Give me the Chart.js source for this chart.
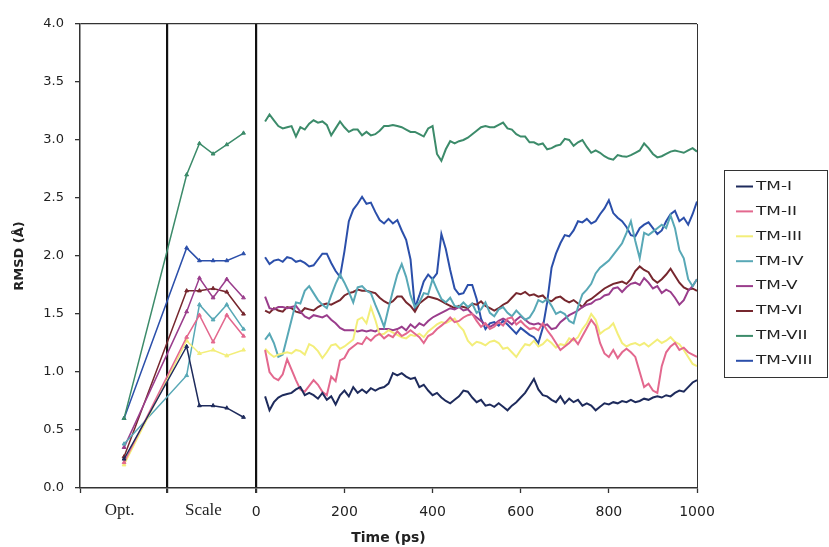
<!DOCTYPE html>
<html><head><meta charset="utf-8">
<script src="https://cdn.jsdelivr.net/npm/chart.js@4/dist/chart.umd.min.js"></script>
<style>html,body{margin:0;padding:0;background:#fff}#wrap{width:829px;height:547px;position:relative}</style>
</head><body><div id="wrap"><canvas id="c"></canvas></div>
<script>
const seriesLabels = ['TM-I','TM-II','TM-III','TM-IV','TM-V','TM-VI','TM-VII','TM-VIII'];
const seriesColors = ['#1e2b5c','#e3688e','#f3ee7a','#58a8b6','#9a3d8c','#76272e','#3c8b6a','#2b4faa'];

// Opt. point and Scale points (placed on the x axis before time 0)
const prepTimes = [-300,-158,-129,-98,-67,-29];
const prepTM1 = [0.25,1.22,0.71,0.71,0.69,0.61];
const prepTM2 = [0.22,1.30,1.49,1.26,1.49,1.31];
const prepTM3 = [0.20,1.27,1.16,1.19,1.14,1.19];
const prepTM4 = [0.38,0.97,1.58,1.45,1.58,1.37];
const prepTM5 = [0.35,1.52,1.81,1.64,1.80,1.64];
const prepTM6 = [0.27,1.70,1.70,1.72,1.69,1.50];
const prepTM7 = [0.60,2.70,2.97,2.88,2.96,3.06];
const prepTM8 = [0.60,2.07,1.96,1.96,1.96,2.02];

// MD time (ps)
const mdTimes = [20,30,40,50,60,70,80,90,100,110,
120,130,140,150,160,170,180,190,200,210,
220,230,240,250,260,270,280,290,300,310,
320,330,340,350,360,370,380,390,400,410,
420,430,440,450,460,470,480,490,500,510,
520,530,540,550,560,570,580,590,600,610,
620,630,640,650,660,670,680,690,700,710,
720,730,740,750,760,770,780,790,800,810,
820,830,840,850,860,870,880,890,900,910,
920,930,940,950,960,970,980,990,1000];

const mdTM1 = [0.79,0.67,0.74,0.78,0.80,0.81,0.82,0.85,0.87,0.80,
0.82,0.80,0.77,0.82,0.76,0.79,0.72,0.80,0.84,0.79,
0.87,0.82,0.85,0.82,0.86,0.84,0.86,0.87,0.90,0.99,
0.97,0.99,0.96,0.94,0.95,0.87,0.89,0.84,0.80,0.82,
0.78,0.75,0.73,0.76,0.79,0.84,0.83,0.78,0.74,0.76,
0.71,0.72,0.70,0.73,0.70,0.67,0.71,0.74,0.78,0.82,
0.88,0.94,0.85,0.80,0.79,0.76,0.74,0.79,0.73,0.77,
0.74,0.76,0.71,0.73,0.71,0.67,0.70,0.73,0.72,0.74,
0.73,0.75,0.74,0.76,0.74,0.75,0.77,0.76,0.78,0.79,
0.78,0.80,0.79,0.82,0.84,0.83,0.87,0.91,0.93];

const mdTM2 = [1.19,1.00,0.95,0.93,0.98,1.11,1.02,0.93,0.85,0.83,
0.88,0.93,0.89,0.83,0.80,0.96,0.92,1.10,1.12,1.19,
1.22,1.25,1.24,1.30,1.27,1.31,1.33,1.29,1.32,1.30,
1.35,1.31,1.33,1.36,1.33,1.30,1.25,1.31,1.33,1.37,
1.40,1.43,1.47,1.43,1.44,1.47,1.49,1.50,1.44,1.39,
1.42,1.37,1.39,1.43,1.40,1.46,1.47,1.41,1.44,1.40,
1.37,1.38,1.36,1.42,1.36,1.31,1.25,1.19,1.22,1.25,
1.29,1.24,1.31,1.38,1.45,1.40,1.25,1.16,1.13,1.19,
1.12,1.17,1.20,1.17,1.13,1.00,0.87,0.90,0.84,0.82,
1.05,1.17,1.22,1.25,1.19,1.21,1.17,1.15,1.13];

const mdTM3 = [1.20,1.16,1.13,1.15,1.16,1.17,1.16,1.19,1.18,1.15,
1.24,1.22,1.18,1.12,1.17,1.23,1.24,1.20,1.22,1.25,
1.28,1.45,1.47,1.42,1.56,1.45,1.32,1.33,1.36,1.34,
1.32,1.30,1.29,1.32,1.31,1.33,1.30,1.35,1.38,1.41,
1.43,1.42,1.44,1.46,1.40,1.36,1.27,1.23,1.26,1.25,
1.23,1.26,1.27,1.25,1.20,1.21,1.17,1.13,1.19,1.24,
1.23,1.27,1.22,1.24,1.28,1.25,1.21,1.24,1.23,1.29,
1.27,1.30,1.37,1.42,1.50,1.45,1.33,1.36,1.38,1.42,
1.33,1.25,1.22,1.24,1.25,1.23,1.25,1.22,1.25,1.28,
1.25,1.27,1.30,1.26,1.24,1.19,1.13,1.07,1.05];

const mdTM4 = [1.28,1.33,1.25,1.13,1.15,1.30,1.45,1.60,1.59,1.70,
1.74,1.68,1.62,1.58,1.55,1.66,1.76,1.84,1.77,1.69,
1.60,1.73,1.74,1.70,1.68,1.58,1.49,1.39,1.55,1.70,
1.84,1.93,1.82,1.66,1.56,1.60,1.68,1.67,1.80,1.71,
1.63,1.60,1.64,1.57,1.56,1.60,1.56,1.59,1.51,1.54,
1.60,1.51,1.48,1.54,1.56,1.51,1.48,1.53,1.49,1.45,
1.47,1.53,1.62,1.60,1.63,1.57,1.50,1.52,1.50,1.44,
1.42,1.56,1.67,1.71,1.76,1.85,1.90,1.93,1.96,2.01,
2.06,2.11,2.20,2.30,2.13,1.98,2.20,2.18,2.21,2.24,
2.27,2.24,2.35,2.24,2.05,1.98,1.80,1.74,1.80];

const mdTM5 = [1.65,1.55,1.54,1.56,1.56,1.55,1.56,1.57,1.52,1.48,
1.46,1.49,1.48,1.47,1.49,1.45,1.42,1.38,1.36,1.36,
1.36,1.35,1.36,1.35,1.36,1.35,1.37,1.37,1.37,1.36,
1.37,1.39,1.36,1.41,1.38,1.42,1.40,1.44,1.47,1.49,
1.51,1.53,1.55,1.54,1.56,1.53,1.54,1.50,1.47,1.44,
1.41,1.39,1.41,1.44,1.46,1.44,1.41,1.45,1.48,1.45,
1.42,1.41,1.42,1.40,1.41,1.37,1.38,1.43,1.46,1.49,
1.51,1.53,1.56,1.58,1.59,1.62,1.63,1.66,1.67,1.72,
1.73,1.69,1.73,1.76,1.77,1.75,1.81,1.77,1.72,1.74,
1.68,1.71,1.69,1.64,1.58,1.62,1.70,1.74,1.80];

const mdTM6 = [1.53,1.51,1.55,1.53,1.52,1.56,1.55,1.52,1.51,1.55,
1.54,1.53,1.56,1.58,1.59,1.58,1.60,1.62,1.66,1.68,
1.69,1.71,1.70,1.70,1.69,1.68,1.64,1.61,1.59,1.61,
1.65,1.65,1.60,1.57,1.52,1.59,1.62,1.65,1.64,1.63,
1.61,1.59,1.57,1.55,1.57,1.56,1.55,1.59,1.58,1.61,
1.57,1.55,1.53,1.55,1.58,1.60,1.64,1.68,1.67,1.69,
1.66,1.67,1.65,1.66,1.62,1.61,1.64,1.65,1.62,1.60,
1.62,1.59,1.56,1.61,1.63,1.66,1.69,1.72,1.74,1.76,
1.77,1.78,1.76,1.80,1.87,1.91,1.88,1.86,1.80,1.77,
1.80,1.84,1.89,1.83,1.77,1.73,1.71,1.72,1.70];

const mdTM7 = [3.16,3.22,3.17,3.12,3.10,3.11,3.12,3.03,3.11,3.09,
3.14,3.17,3.15,3.16,3.13,3.04,3.10,3.16,3.11,3.07,
3.09,3.09,3.04,3.07,3.04,3.05,3.08,3.12,3.12,3.13,
3.12,3.11,3.09,3.07,3.07,3.05,3.03,3.10,3.12,2.88,
2.82,2.92,2.99,2.97,2.99,3.00,3.02,3.05,3.08,3.11,
3.12,3.11,3.11,3.13,3.15,3.10,3.09,3.05,3.03,3.03,
2.98,2.98,2.96,2.97,2.92,2.93,2.95,2.96,3.01,3.00,
2.95,2.98,3.00,2.94,2.89,2.91,2.89,2.86,2.84,2.83,
2.87,2.86,2.855,2.87,2.89,2.91,2.97,2.93,2.88,2.85,
2.86,2.88,2.90,2.91,2.90,2.89,2.91,2.93,2.90];

const mdTM8 = [1.99,1.93,1.96,1.97,1.95,1.99,1.98,1.95,1.96,1.94,
1.91,1.92,1.97,2.02,2.02,1.94,1.87,1.82,2.04,2.30,
2.40,2.45,2.51,2.45,2.46,2.38,2.31,2.28,2.32,2.28,
2.31,2.22,2.14,1.97,1.55,1.66,1.78,1.84,1.80,1.85,
2.19,2.06,1.88,1.72,1.67,1.68,1.75,1.75,1.63,1.46,
1.37,1.42,1.43,1.40,1.44,1.41,1.37,1.33,1.38,1.35,
1.32,1.30,1.25,1.38,1.60,1.90,2.02,2.11,2.18,2.17,
2.22,2.30,2.29,2.32,2.28,2.30,2.36,2.41,2.48,2.37,
2.33,2.30,2.25,2.18,2.17,2.24,2.27,2.29,2.24,2.19,
2.22,2.30,2.36,2.39,2.30,2.33,2.27,2.36,2.47];

const yTickValues = [0,0.5,1,1.5,2,2.5,3,3.5,4];
const xTickValues = [-400,-310,-202,-120,0,200,400,600,800,1000];
const xTickLabels = ['','Opt.','','Scale','0','200','400','600','800','1000'];
const categoryTicks = [-310,-120];
const separatorTicks = [-202,0];

const prepSeries = [prepTM1,prepTM2,prepTM3,prepTM4,prepTM5,prepTM6,prepTM7,prepTM8];
const mdSeries = [mdTM1,mdTM2,mdTM3,mdTM4,mdTM5,mdTM6,mdTM7,mdTM8];

const datasets = seriesLabels.map((label,i)=>({
  label,
  borderColor: seriesColors[i],
  backgroundColor: seriesColors[i],
  data: [
    ...prepTimes.map((t,j)=>({x:t,y:prepSeries[i][j]})),
    {x:-10,y:null},
    ...mdTimes.map((t,j)=>({x:t,y:mdSeries[i][j]}))
  ],
  borderWidth: 2,
  pointStyle: 'triangle',
  pointRadius: ctx => (ctx.raw && ctx.raw.x < 0) ? 2.2 : 0,
  pointBorderWidth: 1,
  spanGaps: false,
  tension: 0,
  segment: { borderWidth: ctx => ctx.p0.parsed.x < 0 ? 1.5 : 2 }
}));

const legendBox = {
  id: 'legendBox',
  afterDraw(chart){
    const ctx = chart.ctx;
    ctx.save();
    ctx.strokeStyle = '#333';
    ctx.lineWidth = 1;
    ctx.strokeRect(724.5,170.5,103,207);
    chart.data.datasets.forEach((ds,i)=>{
      const y = 186.5 + i*24.9;
      ctx.strokeStyle = ds.borderColor;
      ctx.lineWidth = 2;
      ctx.beginPath(); ctx.moveTo(736,y); ctx.lineTo(753,y); ctx.stroke();
      ctx.save();
      ctx.translate(756,y);
      ctx.scale(1.3,1);
      ctx.fillStyle = '#222';
      ctx.font = '13px "DejaVu Sans"';
      ctx.textBaseline = 'middle';
      ctx.fillText(ds.label,0,0);
      ctx.restore();
    });
    ctx.restore();
  }
};

new Chart(document.getElementById('c'), {
  type: 'line',
  data: { datasets },
  options: {
    responsive: true,
    maintainAspectRatio: false,
    animation: false,
    events: [],
    layout: { padding: { left: 0, top: 24, right: 132, bottom: 0 } },
    plugins: { legend: { display: false }, tooltip: { enabled: false } },
    scales: {
      x: {
        type: 'linear',
        min: -400, max: 1000,
        afterBuildTicks: axis => { axis.ticks = xTickValues.map(v=>({value:v})); },
        afterFit: s => { s.height = 59; },
        ticks: {
          autoSkip: false, maxRotation: 0, padding: 11, color: '#222',
          callback: v => { const k = xTickValues.indexOf(v); return k >= 0 ? xTickLabels[k] : ''; },
          font: ctx => categoryTicks.includes(ctx.tick && ctx.tick.value)
            ? { family: '"Liberation Serif", serif', size: 17, lineHeight: 0.75 }
            : { family: '"DejaVu Sans", sans-serif', size: 14 }
        },
        grid: {
          drawOnChartArea: true,
          color: ctx => {
            const v = ctx.tick && ctx.tick.value;
            if (separatorTicks.includes(v)) return '#111';
            if (v === 1000) return '#333';
            return 'rgba(0,0,0,0)';
          },
          lineWidth: ctx => separatorTicks.includes(ctx.tick && ctx.tick.value) ? 2.2 : 1,
          tickColor: ctx => categoryTicks.includes(ctx.tick && ctx.tick.value) ? 'rgba(0,0,0,0)' : '#333',
          tickWidth: ctx => separatorTicks.includes(ctx.tick && ctx.tick.value) ? 2.2 : 1.3,
          tickLength: 5
        },
        border: { display: true, color: '#333', width: 1.5 },
        title: {
          display: true, text: 'Time (ps)', color: '#222',
          font: { family: '"DejaVu Sans", sans-serif', size: 14, weight: 'bold' },
          padding: { top: 0, bottom: 0 }
        }
      },
      y: {
        min: 0, max: 4,
        afterBuildTicks: axis => { axis.ticks = yTickValues.map(v=>({value:v})); },
        afterFit: s => { s.width = 80; },
        ticks: {
          padding: 11, color: '#222',
          callback: v => Number(v).toFixed(1),
          font: { family: '"DejaVu Sans", sans-serif', size: 13 }
        },
        grid: {
          color: ctx => (ctx.tick && ctx.tick.value === 4) ? '#333' : 'rgba(0,0,0,0)',
          lineWidth: 1.3,
          tickColor: '#333',
          tickWidth: 1.3,
          tickLength: 5
        },
        border: { display: true, color: '#333', width: 1.5 },
        title: {
          display: true, text: 'RMSD (Å)', color: '#222',
          font: { family: '"DejaVu Sans", sans-serif', size: 13, weight: 'bold' },
          padding: { top: 12, bottom: 0 }
        }
      }
    }
  },
  plugins: [legendBox]
});
</script>
</body></html>
